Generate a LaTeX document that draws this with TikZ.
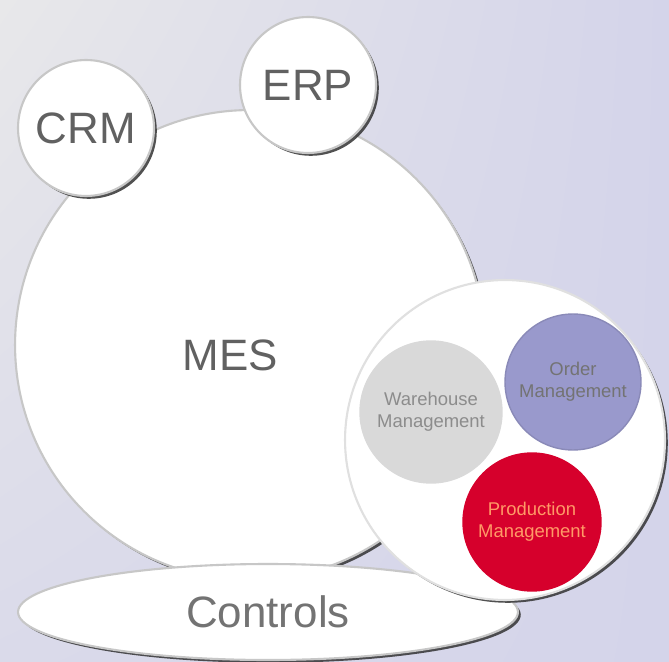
\documentclass[tikz,border=0pt]{standalone}
\usepackage{fontspec}
\setmainfont{Liberation Sans}
\usetikzlibrary{shapes.geometric, shadows, shadings}
\definecolor{BackLav}{HTML}{D4D4EA}
\definecolor{BackGray}{HTML}{E8E8EA}
\definecolor{ModBlue}{HTML}{9999CC}
\definecolor{ModRed}{HTML}{D6002C}
\definecolor{ModGray}{HTML}{D9D9D9}
\definecolor{TextSalmon}{HTML}{FF9966}

\begin{document}
\begin{tikzpicture}[x=0.02cm, y=-0.02cm,
  bigfont/.style={font=\fontsize{25}{28}\selectfont, text=black!62},
  smallfont/.style={font=\fontsize{10.5}{12.5}\selectfont, align=center},
  disc/.style={circle, draw=black!22, line width=1.2pt, fill=white, inner sep=0pt,
               drop shadow={shadow xshift=1.6pt, shadow yshift=-1.6pt, fill=black!80, opacity=0.85}},
  module/.style={circle, draw=black!15, line width=0.8pt, inner sep=0pt, smallfont}
]
  \clip (0,0) rectangle (669,662);
  \shade[upper left=BackGray, upper right=BackLav, lower left=BackLav!70!BackGray, lower right=BackLav]
    (0,0) rectangle (669,662);

  % main systems
  \node[disc, minimum size=9.4cm,
        label={[bigfont, xshift=-0.4cm, yshift=-0.2cm]center:MES}] (mes) at (250,345) {};
  \node[disc, minimum size=2.72cm, bigfont] (crm) at (86,128) {CRM};
  \node[disc, minimum size=2.72cm, bigfont] (erp) at (308,85) {ERP};
  \node[disc, ellipse, minimum width=10cm, minimum height=1.92cm, bigfont, text=black!55]
    (controls) at (268,612) {Controls};

  % MES modules
  \node[disc, minimum size=6.4cm, draw=black!12] (modules) at (505,440) {};
  \node[module, fill=ModGray, minimum size=2.84cm, text=black!45] (warehouse) at (431,412)
    {Warehouse\\Management};
  \node[module, fill=ModBlue, draw=ModBlue!90!black, minimum size=2.72cm, text=black!55] (order) at (573,382)
    {Order\\Management};
  \node[module, fill=ModRed, draw=ModRed, minimum size=2.76cm, text=TextSalmon] (production) at (532,522)
    {Production\\Management};
\end{tikzpicture}
\end{document}
